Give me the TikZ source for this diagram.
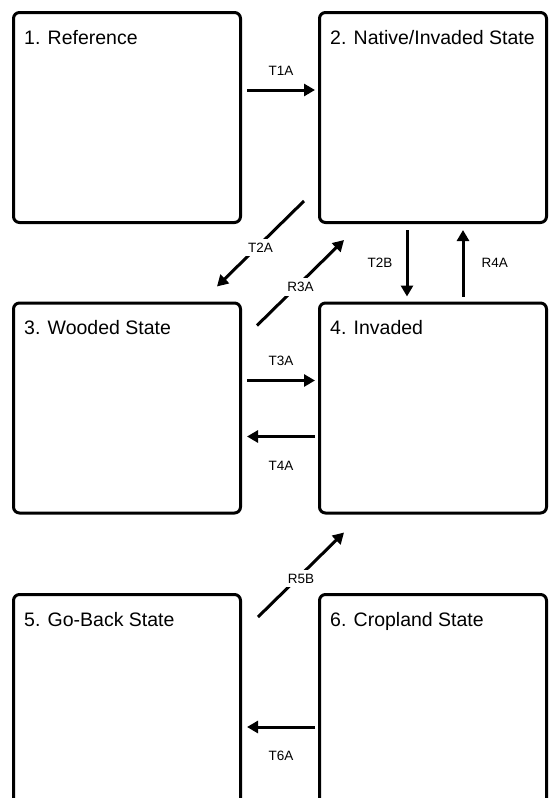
\documentclass[tikz,border=0pt]{standalone}
\usepackage{fontspec}
\setmainfont{Liberation Sans}
\usetikzlibrary{arrows.meta,calc,positioning}
\tikzset{
stbox/.style = {draw, line width=3pt, rounded corners=6pt,
                minimum width=227pt, minimum height=210pt, inner sep=0pt},
sttitle/.style = {anchor=base west, inner sep=0pt,
                  font=\fontsize{19.5}{23}\selectfont},
trans/.style = {line width=3pt, -{Triangle[length=11pt,width=12pt]}},
tlabel/.style = {font=\fontsize{13.5}{16}\selectfont, inner sep=4pt},
cutlabel/.style = {tlabel, fill=white, midway, yshift=-4pt}
}
\begin{document}
\begin{tikzpicture}[x=1pt,y=1pt]
  \useasboundingbox (0,0) rectangle (549,-798);
  \clip (0,0) rectangle (549,-798);

  % states
  \node[stbox] (ref)     at (127,-117.5) {};
  \node[stbox] (native)  at (433,-117.5) {};
  \node[stbox] (wooded)  at (127,-408)   {};
  \node[stbox] (invaded) at (433,-408)   {};
  \node[stbox] (goback)  at (127,-699.5) {};
  \node[stbox] (crop)    at (433,-699.5) {};

  \node[sttitle] (ref-t)     at ($(ref.north west)+(12,-33)$)     {1. Reference};
  \node[sttitle] (native-t)  at ($(native.north west)+(12,-33)$)  {2. Native/Invaded State};
  \node[sttitle] (wooded-t)  at ($(wooded.north west)+(12,-33)$)  {3. Wooded State};
  \node[sttitle] (invaded-t) at ($(invaded.north west)+(12,-33)$) {4. Invaded};
  \node[sttitle] (goback-t)  at ($(goback.north west)+(12,-33)$)  {5. Go-Back State};
  \node[sttitle] (crop-t)    at ($(crop.north west)+(12,-33)$)    {6. Cropland State};

  % transitions
  \draw[trans] ($(ref.north east)+(5,-79)$) -- node[tlabel, above=9pt] {T1A}
               ($(native.north west)+(-3,-79)$);
  \draw[trans] ($(native.south west)+(-14,23)$) -- node[cutlabel] {T2A}
               ($(wooded.north east)+(-25,15)$);
  \draw[trans] ($(wooded.north east)+(15,-24)$) -- node[cutlabel] {R3A}
               ($(native.south west)+(26,-16)$);
  \draw[trans] ($(native.south)+(-26,-6)$) -- node[tlabel, left=9pt] {T2B}
               ($(invaded.north)+(-26,5)$);
  \draw[trans] ($(invaded.north)+(30,5)$) -- node[tlabel, right=13pt] {R4A}
               ($(native.south)+(30,-6)$);
  \draw[trans] ($(wooded.north east)+(5,-79)$) -- node[tlabel, above=9pt] {T3A}
               ($(invaded.north west)+(-3,-79)$);
  \draw[trans] ($(invaded.north west)+(-3,-135)$) -- node[tlabel, below=19pt] {T4A}
               ($(wooded.north east)+(5,-135)$);
  \draw[trans] ($(goback.north east)+(16,-24)$) -- node[cutlabel] {R5B}
               ($(invaded.south west)+(26,-18)$);
  \draw[trans] ($(crop.north west)+(-3,-134)$) -- node[tlabel, below=19pt] {T6A}
               ($(goback.north east)+(5,-134)$);
\end{tikzpicture}
\end{document}
